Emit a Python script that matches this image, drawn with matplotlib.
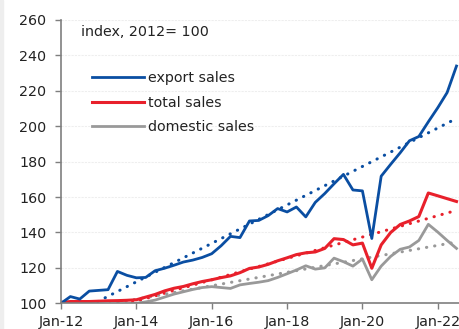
import numpy as np
import pandas as pd
import matplotlib
matplotlib.use("Agg")
import matplotlib.pyplot as plt
import matplotlib.dates as mdates
from matplotlib.patches import Rectangle

# quarterly index, 2012 = 100
quarters = pd.date_range("2012-01-01", "2022-07-01", freq="QS")

export_sales = [
    100.0, 103.8, 102.4, 106.9, 107.3, 107.7, 118.0, 115.8,
    114.4, 114.6, 118.4, 119.8, 121.5, 123.3, 124.4, 125.9,
    128.0, 132.5, 137.8, 137.1, 146.5, 146.8, 149.5, 153.5,
    151.6, 154.4, 148.8, 157.0, 162.0, 167.5, 172.8, 164.0,
    163.5, 136.6, 171.8, 178.5, 185.0, 191.8, 194.2, 202.5,
    210.5, 219.0, 234.0,
]
total_sales = [
    100.5, 101.0, 101.0, 101.0, 101.2, 101.4, 101.5, 101.7,
    102.0, 103.5, 105.0, 107.0, 108.5, 109.5, 111.0, 112.3,
    113.3, 114.5, 115.5, 117.3, 119.7, 120.5, 122.0, 124.0,
    125.7, 127.5, 128.5, 129.0, 131.0, 136.5, 136.0, 133.0,
    134.0, 119.8, 133.0, 140.0, 144.5, 146.5, 149.0, 162.3,
    160.7, 159.1, 157.5,
]
domestic_sales = [
    100.0, 99.8, 99.6, 99.5, 99.4, 99.3, 99.3, 99.5,
    100.0, 100.8, 101.8, 103.5, 105.2, 106.5, 107.8, 108.9,
    109.4, 108.9, 108.4, 110.4, 111.2, 111.9, 112.8, 114.6,
    116.7, 118.8, 121.2, 119.3, 120.0, 125.5, 123.5, 121.0,
    125.0, 113.3, 121.0, 126.5, 130.5, 131.8, 135.5, 144.6,
    140.2, 135.5, 131.0,
]

# linear trends, start and end values
trend_dates = pd.to_datetime(["2012-01-01", "2022-07-01"])
export_trend = [90.4, 204.4]
total_trend = [89.1, 152.5]
domestic_trend = [94.7, 134.6]

BLUE = "#0a4ea2"
RED = "#e8202b"
GREY = "#999999"
AXIS = "#7f7f7f"

plt.rcParams["font.family"] = ["DejaVu Sans"]

fig = plt.figure(figsize=(4.6, 3.29), dpi=100)
fig.patches.append(Rectangle((0, 0), 3 / 460, 1, transform=fig.transFigure,
                             color="#eeeeee", zorder=0))
ax = fig.add_axes([61 / 460, 25.7 / 329, 1 - 61 / 460, 283.3 / 329])

dots = (0, (0.1, 2.6))
ax.plot(trend_dates, export_trend, color=BLUE, lw=2.2, ls=dots, dash_capstyle="round")
ax.plot(trend_dates, total_trend, color=RED, lw=2.2, ls=dots, dash_capstyle="round")
ax.plot(trend_dates, domestic_trend, color=GREY, lw=2.2, ls=dots, dash_capstyle="round")

ax.plot(quarters, domestic_sales, color=GREY, lw=2.0, label="domestic sales")
ax.plot(quarters, total_sales, color=RED, lw=2.2, label="total sales")
ax.plot(quarters, export_sales, color=BLUE, lw=2.0, label="export sales")

ax.set_ylim(100, 260)
ax.set_yticks(np.arange(100, 261, 20))
ax.set_xlim(pd.Timestamp("2012-01-01"), pd.Timestamp("2022-08-04"))
ax.xaxis.set_major_locator(mdates.YearLocator(2, month=1, day=1))
ax.xaxis.set_major_formatter(mdates.DateFormatter("%b-%y"))

ax.grid(axis="y", color="#eeeeee", lw=0.8, ls=(0, (2, 1)))
ax.set_axisbelow(True)
for side in ("top", "right"):
    ax.spines[side].set_visible(False)
for side in ("left", "bottom"):
    ax.spines[side].set_color(AXIS)
    ax.spines[side].set_linewidth(1.2)
ax.tick_params(colors=AXIS, labelcolor="#222222", labelsize=10.3, length=4.5, width=1.0)
ax.tick_params(axis="y", pad=6)
ax.tick_params(axis="x", pad=4)

ax.text(81 / 460, 1 - 32 / 329, "index, 2012= 100", transform=fig.transFigure,
        fontsize=10.3, color="#222222", va="center", ha="left")

handles, labels = ax.get_legend_handles_labels()
order = [2, 1, 0]
leg = ax.legend([handles[i] for i in order], [labels[i] for i in order],
                loc="upper left", bbox_to_anchor=(92 / 460, 1 - 71 / 329),
                bbox_transform=fig.transFigure, frameon=False, fontsize=10.3,
                handlelength=3.6, handletextpad=0.3, labelspacing=0.74,
                borderaxespad=0, borderpad=0)
for t in leg.get_texts():
    t.set_color("#222222")

fig.savefig("out.png", dpi=100)
